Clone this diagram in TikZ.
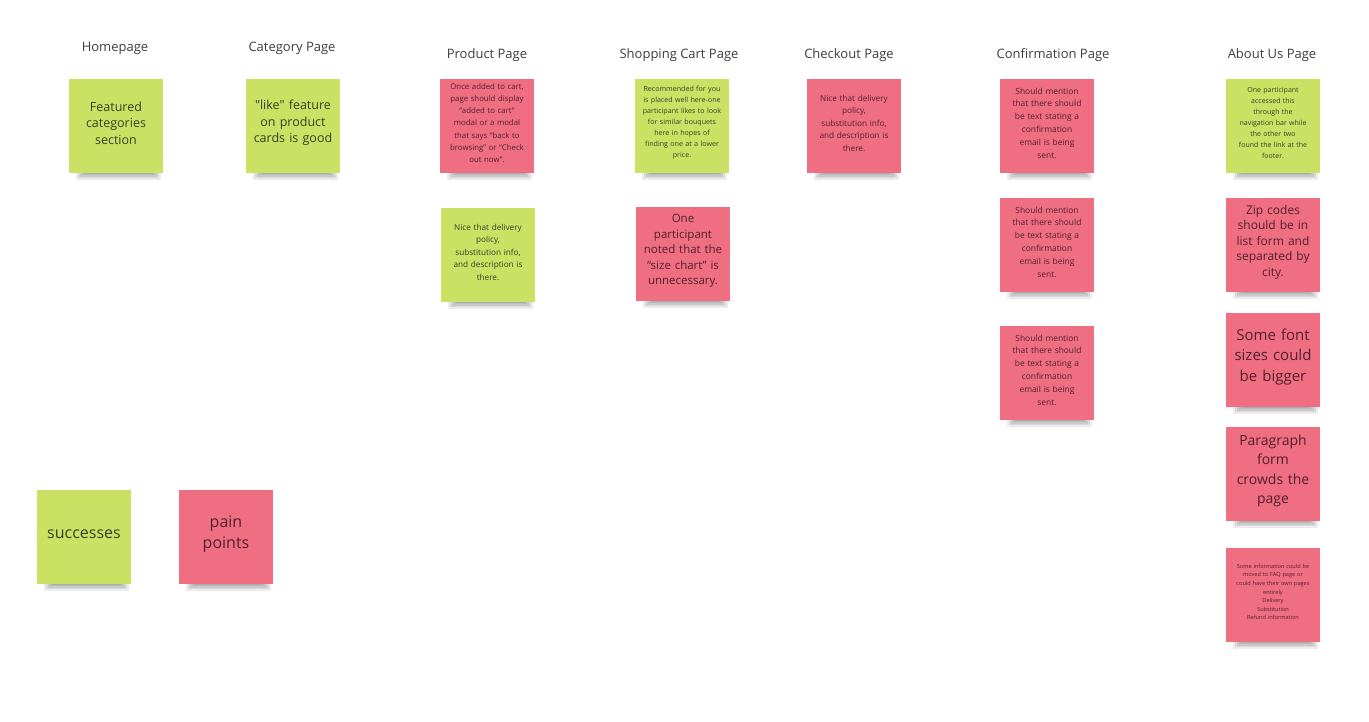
\documentclass[tikz,border=0pt]{standalone}
\usepackage{fontspec}
\setmainfont{Open Sans}[Ligatures=TeXOff]
\definecolor{stgreen}{RGB}{203,225,100}
\definecolor{stpink}{RGB}{239,110,130}
\definecolor{txgreen}{RGB}{58,62,38}
\definecolor{txpink}{RGB}{82,32,44}
\definecolor{titlegray}{RGB}{62,62,62}
\tikzset{
  notetext/.style={align=center, text width=92pt, inner sep=0pt},
  noteshadow/.style={black, opacity=0.075},
  pagetitle/.style={text=titlegray, font=\fontsize{13}{15}\selectfont, inner sep=0pt}
}
% #1 name, #2 X, #3 Y (top-left), #4 fill, #5 text colour, #6 font size, #7 leading, #8 text
\newcommand\stickyat[8]{%
  \foreach \k in {0,...,4}{\fill[noteshadow] ({#2+7+2*\k},{#3+86}) rectangle ({#2+92-2*\k},{#3+101-1.6*\k});}
  \fill[#4] ({#2},{#3}) rectangle ({#2+94},{#3+94});
  \node[notetext, text=#5, font=\fontsize{#6}{#7}\selectfont] (#1) at ({#2+47},{#3+44}) {#8};
}
\begin{document}
\begin{tikzpicture}[x=1pt,y=-1pt]
\useasboundingbox[fill=white] (0,0) rectangle (1369,722);
% titles
\node[pagetitle] (t1) at (115,48.5) {Homepage};
\node[pagetitle] (t2) at (292,48.5) {Category Page};
\node[pagetitle] (t3) at (487,55.5) {Product Page};
\node[pagetitle] (t4) at (679,55.5) {Shopping Cart Page};
\node[pagetitle] (t5) at (849,55.5) {Checkout Page};
\node[pagetitle] (t6) at (1053,55.5) {Confirmation Page};
\node[pagetitle] (t7) at (1272,55.5) {About Us Page};
% homepage / category
\stickyat{n1}{69}{79}{stgreen}{txgreen}{12.5}{16.5}{Featured\\categories\\section}
\stickyat{n2}{246}{79}{stgreen}{txgreen}{12.5}{16.5}{"like" feature\\on product\\cards is good}
% product
\stickyat{n3}{440}{79}{stpink}{txpink}{7.8}{12.3}{Once added to cart,\\page should display\\“added to cart”\\modal or a modal\\that says “back to\\browsing” or “Check\\out now”.}
\stickyat{n4}{441}{208}{stgreen}{txgreen}{8.2}{12.5}{Nice that delivery\\policy,\\substitution info,\\and description is\\there.}
% shopping cart
\stickyat{n5}{635}{79}{stgreen}{txgreen}{7.1}{11}{Recommended for you\\is placed well here-one\\participant likes to look\\for similar bouquets\\here in hopes of\\finding one at a lower\\price.}
\stickyat{n6}{636}{207}{stpink}{txpink}{11.5}{15.5}{One\\participant\\noted that the\\“size chart” is\\unnecessary.}
% checkout
\stickyat{n7}{807}{79}{stpink}{txpink}{8.2}{12.5}{Nice that delivery\\policy,\\substitution info,\\and description is\\there.}
% confirmation
\stickyat{n8}{1000}{79}{stpink}{txpink}{8.4}{12.8}{Should mention\\that there should\\be text stating a\\confirmation\\email is being\\sent.}
\stickyat{n9}{1000}{198}{stpink}{txpink}{8.4}{12.8}{Should mention\\that there should\\be text stating a\\confirmation\\email is being\\sent.}
\stickyat{n10}{1000}{326}{stpink}{txpink}{8.4}{12.8}{Should mention\\that there should\\be text stating a\\confirmation\\email is being\\sent.}
% about us
\stickyat{n11}{1226}{79}{stgreen}{txgreen}{7}{11}{One participant\\accessed this\\through the\\navigation bar while\\the other two\\found the link at the\\footer.}
\stickyat{n12}{1226}{198}{stpink}{txpink}{12}{15.5}{Zip codes\\should be in\\list form and\\separated by\\city.}
\stickyat{n13}{1226}{313}{stpink}{txpink}{15}{20.5}{Some font\\sizes could\\be bigger}
\stickyat{n14}{1226}{427}{stpink}{txpink}{14}{19.5}{Paragraph\\form\\crowds the\\page}
\stickyat{n15}{1226}{548}{stpink}{txpink}{5.6}{8.6}{Some information could be\\moved to FAQ page or\\could have their own pages\\entirely\\Delivery\\Substitution\\Refund information}
% legend
\stickyat{n16}{37}{490}{stgreen}{txgreen}{16}{21}{successes}
\stickyat{n17}{179}{490}{stpink}{txpink}{16}{21}{pain\\points}
\end{tikzpicture}
\end{document}
